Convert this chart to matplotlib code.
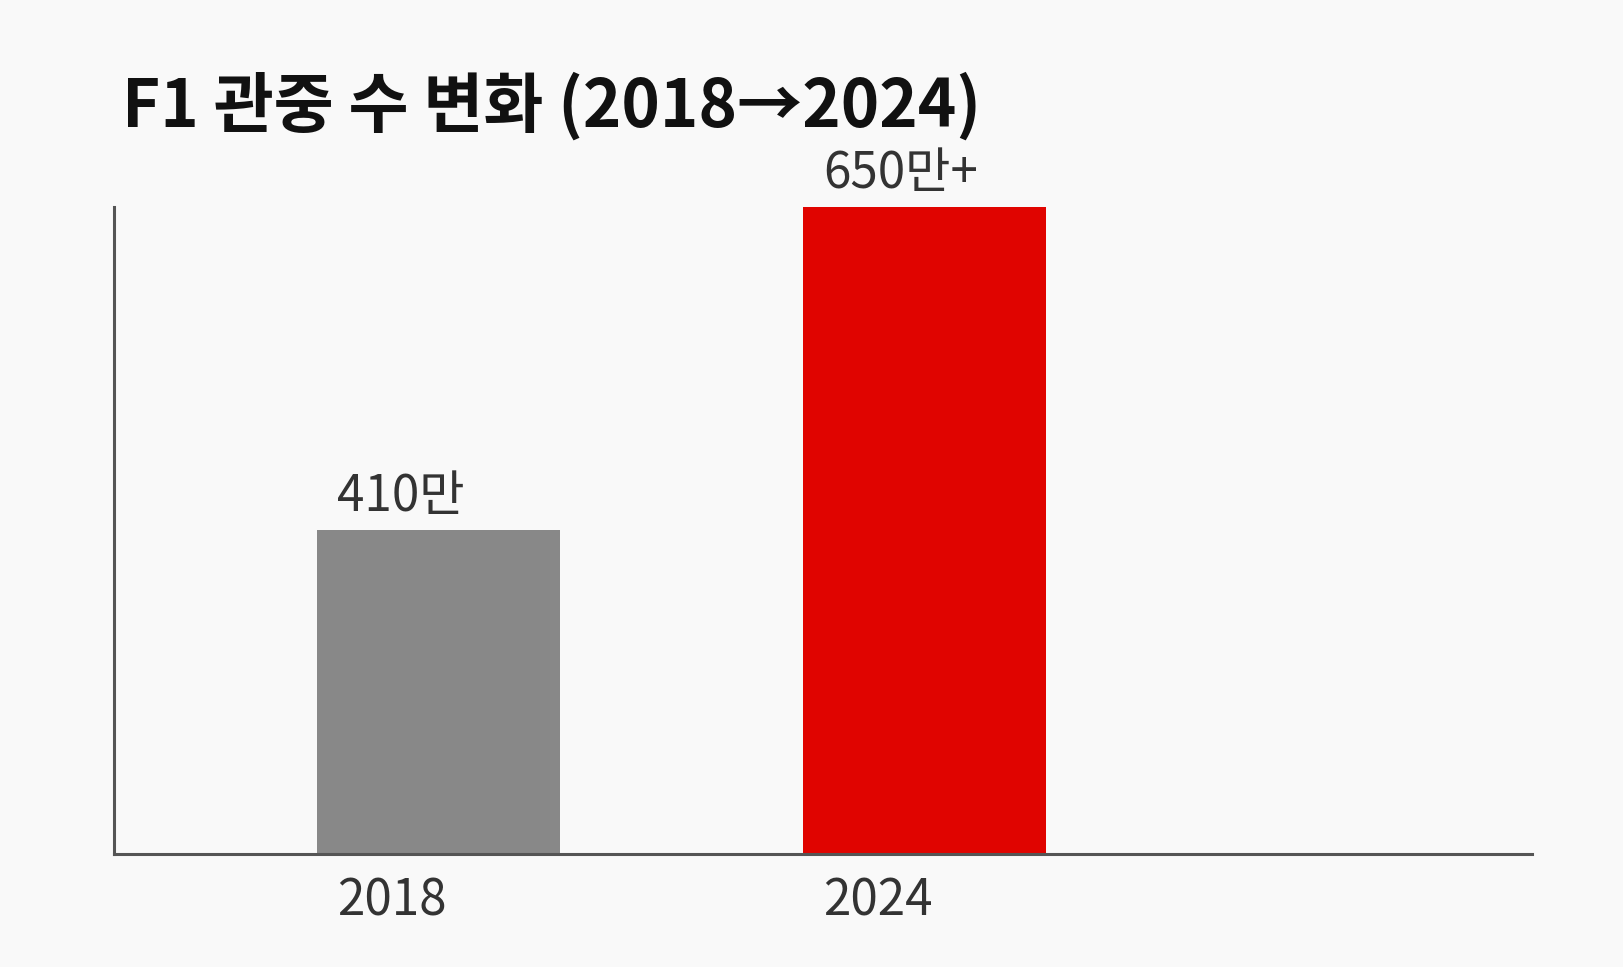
import matplotlib
matplotlib.use("Agg")
import matplotlib.pyplot as plt

plt.rcParams['font.family'] = ['Noto Sans CJK KR', 'DejaVu Sans']

# data
years = ['2018', '2024']
spectators = [410, 650]  # 만 명
value_labels = ['410만', '650만+']
bar_colors = ['#888888', '#e00400']

bg = '#f9f9f9'
fig = plt.figure(figsize=(16.24, 9.67), dpi=100, facecolor=bg)
ax = fig.add_axes([0.0702, 0.1169, 0.8731, 0.6691], facecolor=bg)

pos = list(range(len(years)))
width = 0.5
ax.bar(pos, spectators, width=width, color=bar_colors, zorder=2)

# labels sit left-aligned just inside the bar's left edge
off = -width / 2 + 0.041
for p, v, lab in zip(pos, spectators, value_labels):
    ax.annotate(lab, (p + off, v), xytext=(0, 13.7), textcoords='offset points',
                ha='left', va='baseline', fontsize=35.5, color='#333333')

ax.set_xlim(-0.669, 2.251)
ax.set_ylim(170, 650)

ax.set_xticks([p + off for p in pos])
ax.set_xticklabels(years, ha='left', fontsize=35.5, color='#333333')
ax.tick_params(axis='x', length=0, pad=15.5)
ax.set_yticks([])

for s in ['top', 'right']:
    ax.spines[s].set_visible(False)
for s in ['left', 'bottom']:
    ax.spines[s].set_color('#555555')
    ax.spines[s].set_linewidth(2.2)

fig.text(122 / 1624, 1 - 127 / 967, 'F1 관중 수 변화 (2018→2024)',
         fontsize=47, fontweight='bold', color='#111111', ha='left', va='baseline')

fig.savefig('out.png', dpi=100, facecolor=bg)
